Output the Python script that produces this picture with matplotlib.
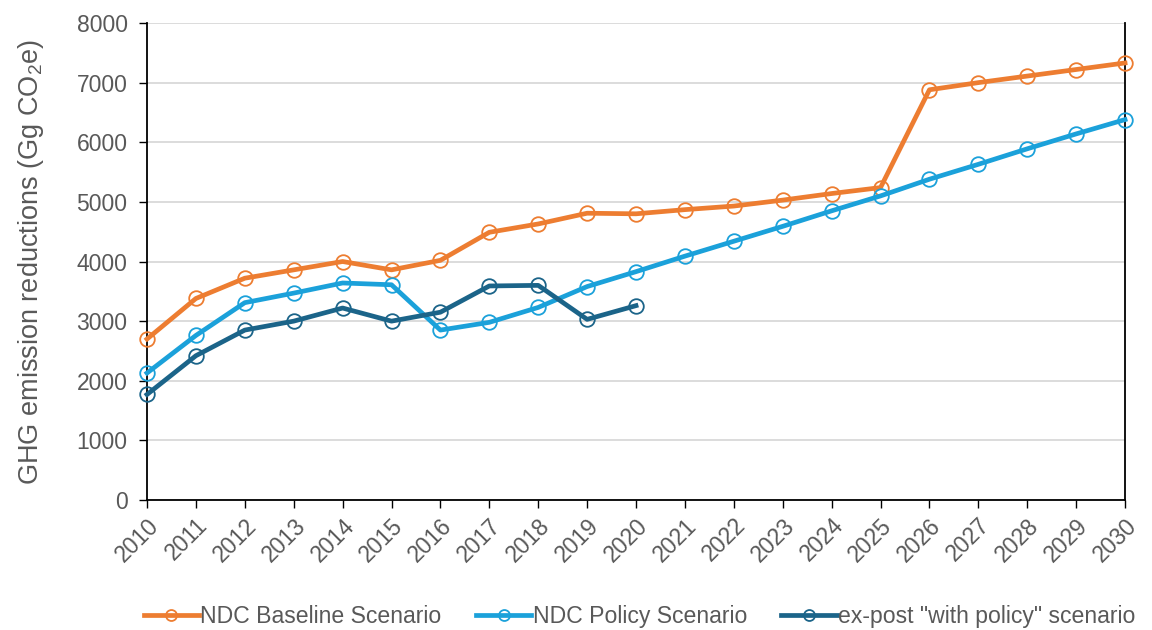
import numpy as np
import matplotlib
matplotlib.use("Agg")
import matplotlib.pyplot as plt

plt.rcParams["font.family"] = ["Liberation Sans", "DejaVu Sans"]
plt.rcParams["mathtext.fontset"] = "custom"
plt.rcParams["mathtext.rm"] = "Liberation Sans"
plt.rcParams["mathtext.it"] = "Liberation Sans"

# ── data ──────────────────────────────────────────────
years = list(range(2010, 2031))
ndc_baseline = [2700, 3380, 3720, 3860, 4000, 3860, 4020, 4490, 4630, 4810, 4800,
                4870, 4930, 5030, 5140, 5240, 6880, 7000, 7110, 7220, 7330]
ndc_policy = [2130, 2760, 3310, 3470, 3640, 3610, 2850, 2980, 3230, 3580, 3830,
              4090, 4340, 4590, 4850, 5100, 5380, 5630, 5890, 6140, 6380]
expost_years = list(range(2010, 2021))
expost = [1770, 2420, 2850, 3000, 3220, 3000, 3150, 3590, 3600, 3030, 3260]

ORANGE = "#ED7D31"
LBLUE = "#1BA1DA"
DBLUE = "#1B6489"
TXT = "#595959"

fig = plt.figure(figsize=(11.52, 6.30), dpi=100)
ax = fig.add_axes([0.1276, 0.2063, 0.8490, 0.7572])

style = dict(lw=3.4, marker="o", ms=10.5, mfc="none", mew=1.3, zorder=3, clip_on=False)
ax.plot(years, ndc_baseline, color=ORANGE, label="NDC Baseline Scenario", **style)
ax.plot(years, ndc_policy, color=LBLUE, label="NDC Policy Scenario", **style)
ax.plot(expost_years, expost, color=DBLUE, label='ex-post "with policy" scenario', **style)

ax.set_xlim(2010, 2030)
ax.set_ylim(0, 8000)
ax.set_yticks(np.arange(0, 8001, 1000))
ax.set_xticks(years)
ax.set_xticklabels([str(y) for y in years], rotation=45, ha="right",
                   rotation_mode="anchor")
ax.grid(axis="y", color="#D9D9D9", lw=1.3, zorder=0)
ax.set_axisbelow(True)

ax.spines["top"].set_visible(False)
for s in ["left", "bottom", "right"]:
    ax.spines[s].set_color("black")
    ax.spines[s].set_linewidth(1.3)

ax.tick_params(axis="both", labelsize=16.5, colors=TXT, length=6, width=1.0)
ax.tick_params(axis="both", color="black")
ax.tick_params(axis="y", pad=8)
ax.tick_params(axis="x", pad=4)
ax.set_ylabel("GHG emission reductions (Gg CO$_2$e)", fontsize=19.5, color=TXT, labelpad=22)

leg = ax.legend(loc="center", bbox_to_anchor=(0.5036, -0.245), ncol=3, frameon=False,
                fontsize=16.6, handlelength=2.4, columnspacing=1.5, handletextpad=0.05,
                markerscale=0.75)
for t in leg.get_texts():
    t.set_color(TXT)

fig.savefig("out.png", dpi=100)
